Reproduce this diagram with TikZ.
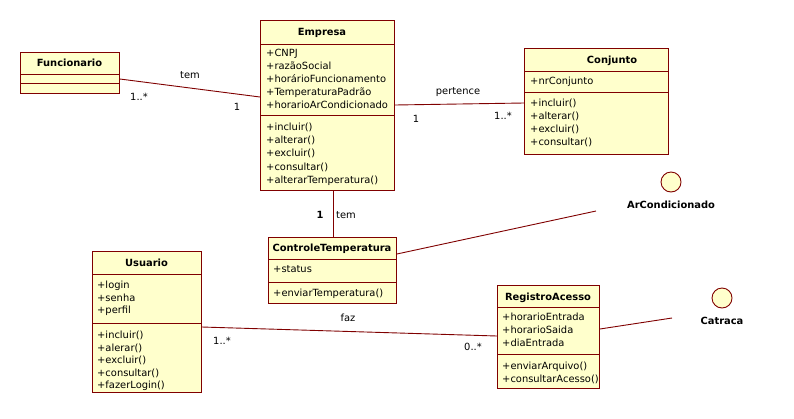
\documentclass[tikz,border=0pt]{standalone}
\usepackage{fontspec}
\setmainfont{DejaVu Sans}
\definecolor{clsfill}{RGB}{255,255,204}
\definecolor{clsline}{RGB}{128,0,0}
\tikzset{
  cls/.style={draw=clsline, fill=clsfill, line width=0.9pt, rectangle, inner sep=0pt, anchor=north west},
  sep/.style={draw=clsline, line width=0.9pt},
  assoc/.style={draw=clsline, line width=0.9pt},
  ttl/.style={font=\fontsize{9.9}{12}\selectfont\bfseries, inner sep=0pt, anchor=base},
  txt/.style={font=\fontsize{9.9}{12}\selectfont, inner sep=0pt, anchor=base west},
  lbl/.style={font=\fontsize{9.9}{12}\selectfont, inner sep=0pt, anchor=base},
  iface/.style={draw=clsline, fill=clsfill, line width=0.9pt, circle, minimum size=20pt, inner sep=0pt},
}
\begin{document}
\begin{tikzpicture}[x=1pt, y=-1pt]
\fill[white] (0,0) rectangle (794,418);
\useasboundingbox (0,0) rectangle (794,418);

% ---------- Funcionario
\node[cls, minimum width=99pt, minimum height=41pt] (func) at (20,52) {};
\draw[sep] (func.west |- 0,74) -- (func.east |- 0,74);
\draw[sep] (func.west |- 0,83) -- (func.east |- 0,83);
\node[ttl] (func-t) at (69.5,66.7) {Funcionario};

% ---------- Empresa
\node[cls, minimum width=134pt, minimum height=170pt] (emp) at (260,20) {};
\draw[sep] (emp.west |- 0,44) -- (emp.east |- 0,44);
\draw[sep] (emp.west |- 0,115) -- (emp.east |- 0,115);
\node[ttl] (emp-t) at (322,35) {Empresa};
\foreach \t [count=\i] in {+CNPJ,+razãoSocial,+horárioFuncionamento,+TemperaturaPadrão,+horarioArCondicionado}
  \node[txt] (emp-a\i) at (266,{56.7+13*(\i-1)}) {\t};
\foreach \t [count=\i] in {+incluir(),+alterar(),+excluir(),+consultar(),+alterarTemperatura()}
  \node[txt] (emp-m\i) at (266,{130.5+13.2*(\i-1)}) {\t};

% ---------- Conjunto
\node[cls, minimum width=144pt, minimum height=106pt] (conj) at (524,48) {};
\draw[sep] (conj.west |- 0,71) -- (conj.east |- 0,71);
\draw[sep] (conj.west |- 0,92) -- (conj.east |- 0,92);
\node[ttl] (conj-t) at (612,63.2) {Conjunto};
\node[txt] (conj-a1) at (530,84.5) {+nrConjunto};
\foreach \t [count=\i] in {+incluir(),+alterar(),+excluir(),+consultar()}
  \node[txt] (conj-m\i) at (530,{106.5+13*(\i-1)}) {\t};

% ---------- ControleTemperatura
\node[cls, minimum width=128pt, minimum height=66pt] (ctl) at (268,237) {};
\draw[sep] (ctl.west |- 0,259) -- (ctl.east |- 0,259);
\draw[sep] (ctl.west |- 0,282) -- (ctl.east |- 0,282);
\node[ttl] (ctl-t) at (332,251.5) {ControleTemperatura};
\node[txt] (ctl-a1) at (273,272) {+status};
\node[txt] (ctl-m1) at (273,296.5) {+enviarTemperatura()};

% ---------- Usuario
\node[cls, minimum width=109pt, minimum height=141pt] (usu) at (92,251) {};
\draw[sep] (usu.west |- 0,274) -- (usu.east |- 0,274);
\draw[sep] (usu.west |- 0,323) -- (usu.east |- 0,323);
\node[ttl] (usu-t) at (146.5,266) {Usuario};
\foreach \t [count=\i] in {+login,+senha,+perfil}
  \node[txt] (usu-a\i) at (97,{288.7+12.5*(\i-1)}) {\t};
\foreach \t [count=\i] in {+incluir(),+alerar(),+excluir(),+consultar(),+fazerLogin()}
  \node[txt] (usu-m\i) at (97,{338.5+12.5*(\i-1)}) {\t};

% ---------- RegistroAcesso
\node[cls, minimum width=102pt, minimum height=103pt] (reg) at (497,285) {};
\draw[sep] (reg.west |- 0,307) -- (reg.east |- 0,307);
\draw[sep] (reg.west |- 0,354) -- (reg.east |- 0,354);
\node[ttl] (reg-t) at (548,300) {RegistroAcesso};
\foreach \t [count=\i] in {+horarioEntrada,+horarioSaida,+diaEntrada}
  \node[txt] (reg-a\i) at (502,{320.5+13.2*(\i-1)}) {\t};
\foreach \t [count=\i] in {+enviarArquivo(),+consultarAcesso()}
  \node[txt] (reg-m\i) at (502,{369.7+12.7*(\i-1)}) {\t};

% ---------- interfaces
\node[iface] (ac) at (671,182) {};
\node[ttl] (ac-t) at (671,208) {ArCondicionado};
\node[iface] (cat) at (722,298) {};
\node[ttl] (cat-t) at (722,324) {Catraca};

\coordinate (acEnd) at (596,211);
\coordinate (catEnd) at (672,318);

% ---------- connectors
\draw[assoc] (func.east |- 0,79) -- (emp.west |- 0,97);
\node[lbl] (l-tem1) at (190,78.5) {tem};
\node[lbl] (l-m1) at (139,100.5) {1..*};
\node[lbl] (l-m2) at (237,110.5) {1};

\draw[assoc] (emp.east |- 0,105) -- (conj.west |- 0,103);
\node[lbl] (l-pert) at (458,94.5) {pertence};
\node[lbl] (l-m3) at (416,122.5) {1};
\node[lbl] (l-m4) at (503,119.5) {1..*};

\draw[assoc] (emp.south -| 333,0) -- (ctl.north -| 333,0);
\node[lbl, font=\fontsize{9.9}{12}\selectfont\bfseries] (l-m5) at (320,218.5) {1};
\node[lbl] (l-tem2) at (346,218.5) {tem};

\draw[assoc] (ctl.east |- 0,254) -- (acEnd);

\draw[assoc] (usu.east |- 0,327) -- (reg.west |- 0,336);
\node[lbl] (l-faz) at (348,321.5) {faz};
\node[lbl] (l-m6) at (222,344.5) {1..*};
\node[lbl] (l-m7) at (473,350.5) {0..*};

\draw[assoc] (reg.east |- 0,329) -- (catEnd);
\end{tikzpicture}
\end{document}
